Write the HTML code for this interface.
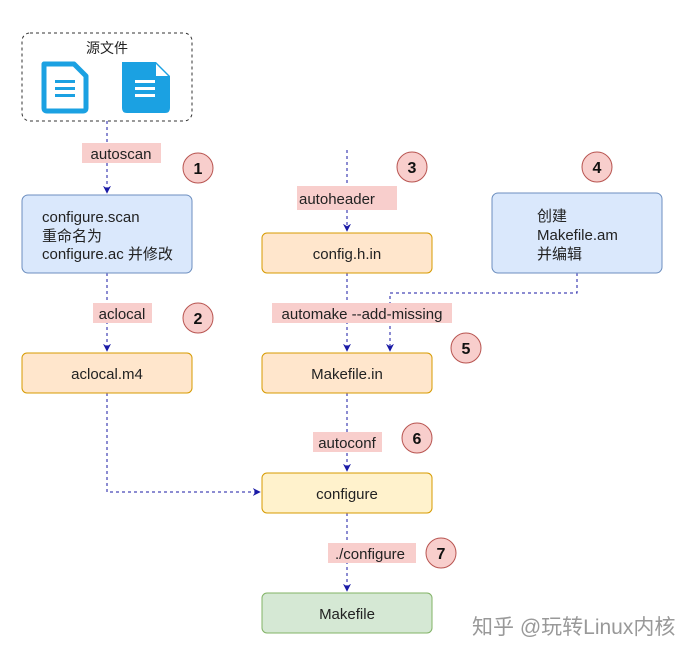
<!DOCTYPE html>
<html><head><meta charset="utf-8"><style>
body{margin:0;background:#fff;}
svg{display:block;font-family:"Liberation Sans","Noto Sans CJK SC",sans-serif;}
</style></head><body>
<svg width="691" height="653" viewBox="0 0 691 653" xmlns="http://www.w3.org/2000/svg">
<defs>
<marker id="d" viewBox="0 0 10 10" refX="9" refY="5" markerWidth="8" markerHeight="8" orient="auto" markerUnits="userSpaceOnUse"><path d="M0,0 L10,5 L0,10 L3,5 z" fill="#1a1aa6"/></marker></defs>
<g fill="none" stroke="#1a1aa6" stroke-dasharray="3,3" stroke-width="1">
<path d="M107 121 V193" marker-end="url(#d)"/>
<path d="M107 273 V351" marker-end="url(#d)"/>
<path d="M107 393 V492 H260" marker-end="url(#d)"/>
<path d="M347 150 V231" marker-end="url(#d)"/>
<path d="M347 273 V351" marker-end="url(#d)"/>
<path d="M577 273 V293 H390 V351" marker-end="url(#d)"/>
<path d="M347 393 V471" marker-end="url(#d)"/>
<path d="M347 513 V591" marker-end="url(#d)"/>
</g>
<rect x="22" y="33" width="170" height="88" rx="8" fill="none" stroke="#333" stroke-dasharray="3,3"/>
<text x="107" y="53" font-size="14" text-anchor="middle" fill="#222">源文件</text>
<g>
<path d="M44 64 H74 L86 76 V108 Q86 111 83 111 H47 Q44 111 44 108 Z" fill="#fff" stroke="#1ba1e2" stroke-width="5" stroke-linejoin="round"/>
<rect x="55" y="80" width="20" height="3" fill="#1ba1e2"/><rect x="55" y="87" width="20" height="3" fill="#1ba1e2"/><rect x="55" y="94" width="20" height="3" fill="#1ba1e2"/>
<path d="M122 62 H156 L170 76 V108 Q170 113 165 113 H127 Q122 113 122 108 Z" fill="#1ba1e2"/>
<path d="M156 64 L168 76 H156 Z" fill="#fff"/>
<rect x="135" y="80" width="20" height="3" fill="#fff"/><rect x="135" y="87" width="20" height="3" fill="#fff"/><rect x="135" y="94" width="20" height="3" fill="#fff"/>
</g>
<g font-size="15" fill="#222">
<rect x="82" y="143" width="79" height="20" fill="#f8cecc"/><text x="121" y="159" text-anchor="middle">autoscan</text>
<rect x="93" y="303" width="59" height="20" fill="#f8cecc"/><text x="122" y="319" text-anchor="middle">aclocal</text>
<rect x="297" y="186" width="100" height="24" fill="#f8cecc"/><text x="299" y="204">autoheader</text>
<rect x="272" y="303" width="180" height="20" fill="#f8cecc"/><text x="362" y="319" text-anchor="middle">automake --add-missing</text>
<rect x="313" y="432" width="69" height="20" fill="#f8cecc"/><text x="347" y="448" text-anchor="middle">autoconf</text>
<rect x="328" y="543" width="88" height="20" fill="#f8cecc"/><text x="370" y="559" text-anchor="middle">./configure</text>
</g>
<g stroke="#6c8ebf" fill="#dae8fc">
<rect x="22" y="195" width="170" height="78" rx="6"/>
<rect x="492" y="193" width="170" height="80" rx="6"/>
</g>
<g stroke="#d79b00" fill="#ffe6cc">
<rect x="22" y="353" width="170" height="40" rx="5"/>
<rect x="262" y="233" width="170" height="40" rx="5"/>
<rect x="262" y="353" width="170" height="40" rx="5"/>
<rect x="262" y="473" width="170" height="40" rx="5" fill="#fff2cc"/>
</g>
<rect x="262" y="593" width="170" height="40" rx="5" fill="#d5e8d4" stroke="#82b366"/>
<g font-size="15" fill="#222">
<text x="42" y="222">configure.scan</text><text x="42" y="241">重命名为</text><text x="42" y="259">configure.ac 并修改</text>
<text x="537" y="221">创建</text><text x="537" y="240">Makefile.am</text><text x="537" y="259">并编辑</text>
<text x="107" y="379" text-anchor="middle">aclocal.m4</text>
<text x="347" y="259" text-anchor="middle">config.h.in</text>
<text x="347" y="379" text-anchor="middle">Makefile.in</text>
<text x="347" y="499" text-anchor="middle">configure</text>
<text x="347" y="619" text-anchor="middle">Makefile</text>
</g>
<g fill="#f8cecc" stroke="#b85450">
<circle cx="198" cy="168" r="15"/><circle cx="198" cy="318" r="15"/><circle cx="412" cy="167" r="15"/>
<circle cx="597" cy="167" r="15"/><circle cx="466" cy="348" r="15"/><circle cx="417" cy="438" r="15"/><circle cx="441" cy="553" r="15"/>
</g>
<g font-size="16" font-weight="bold" fill="#111" text-anchor="middle">
<text x="198" y="174">1</text><text x="198" y="324">2</text><text x="412" y="173">3</text><text x="597" y="173">4</text>
<text x="466" y="354">5</text><text x="417" y="444">6</text><text x="441" y="559">7</text>
</g>
<text x="472" y="634" font-size="21" fill="#999">知乎 @玩转Linux内核</text>
</svg>
</body></html>
